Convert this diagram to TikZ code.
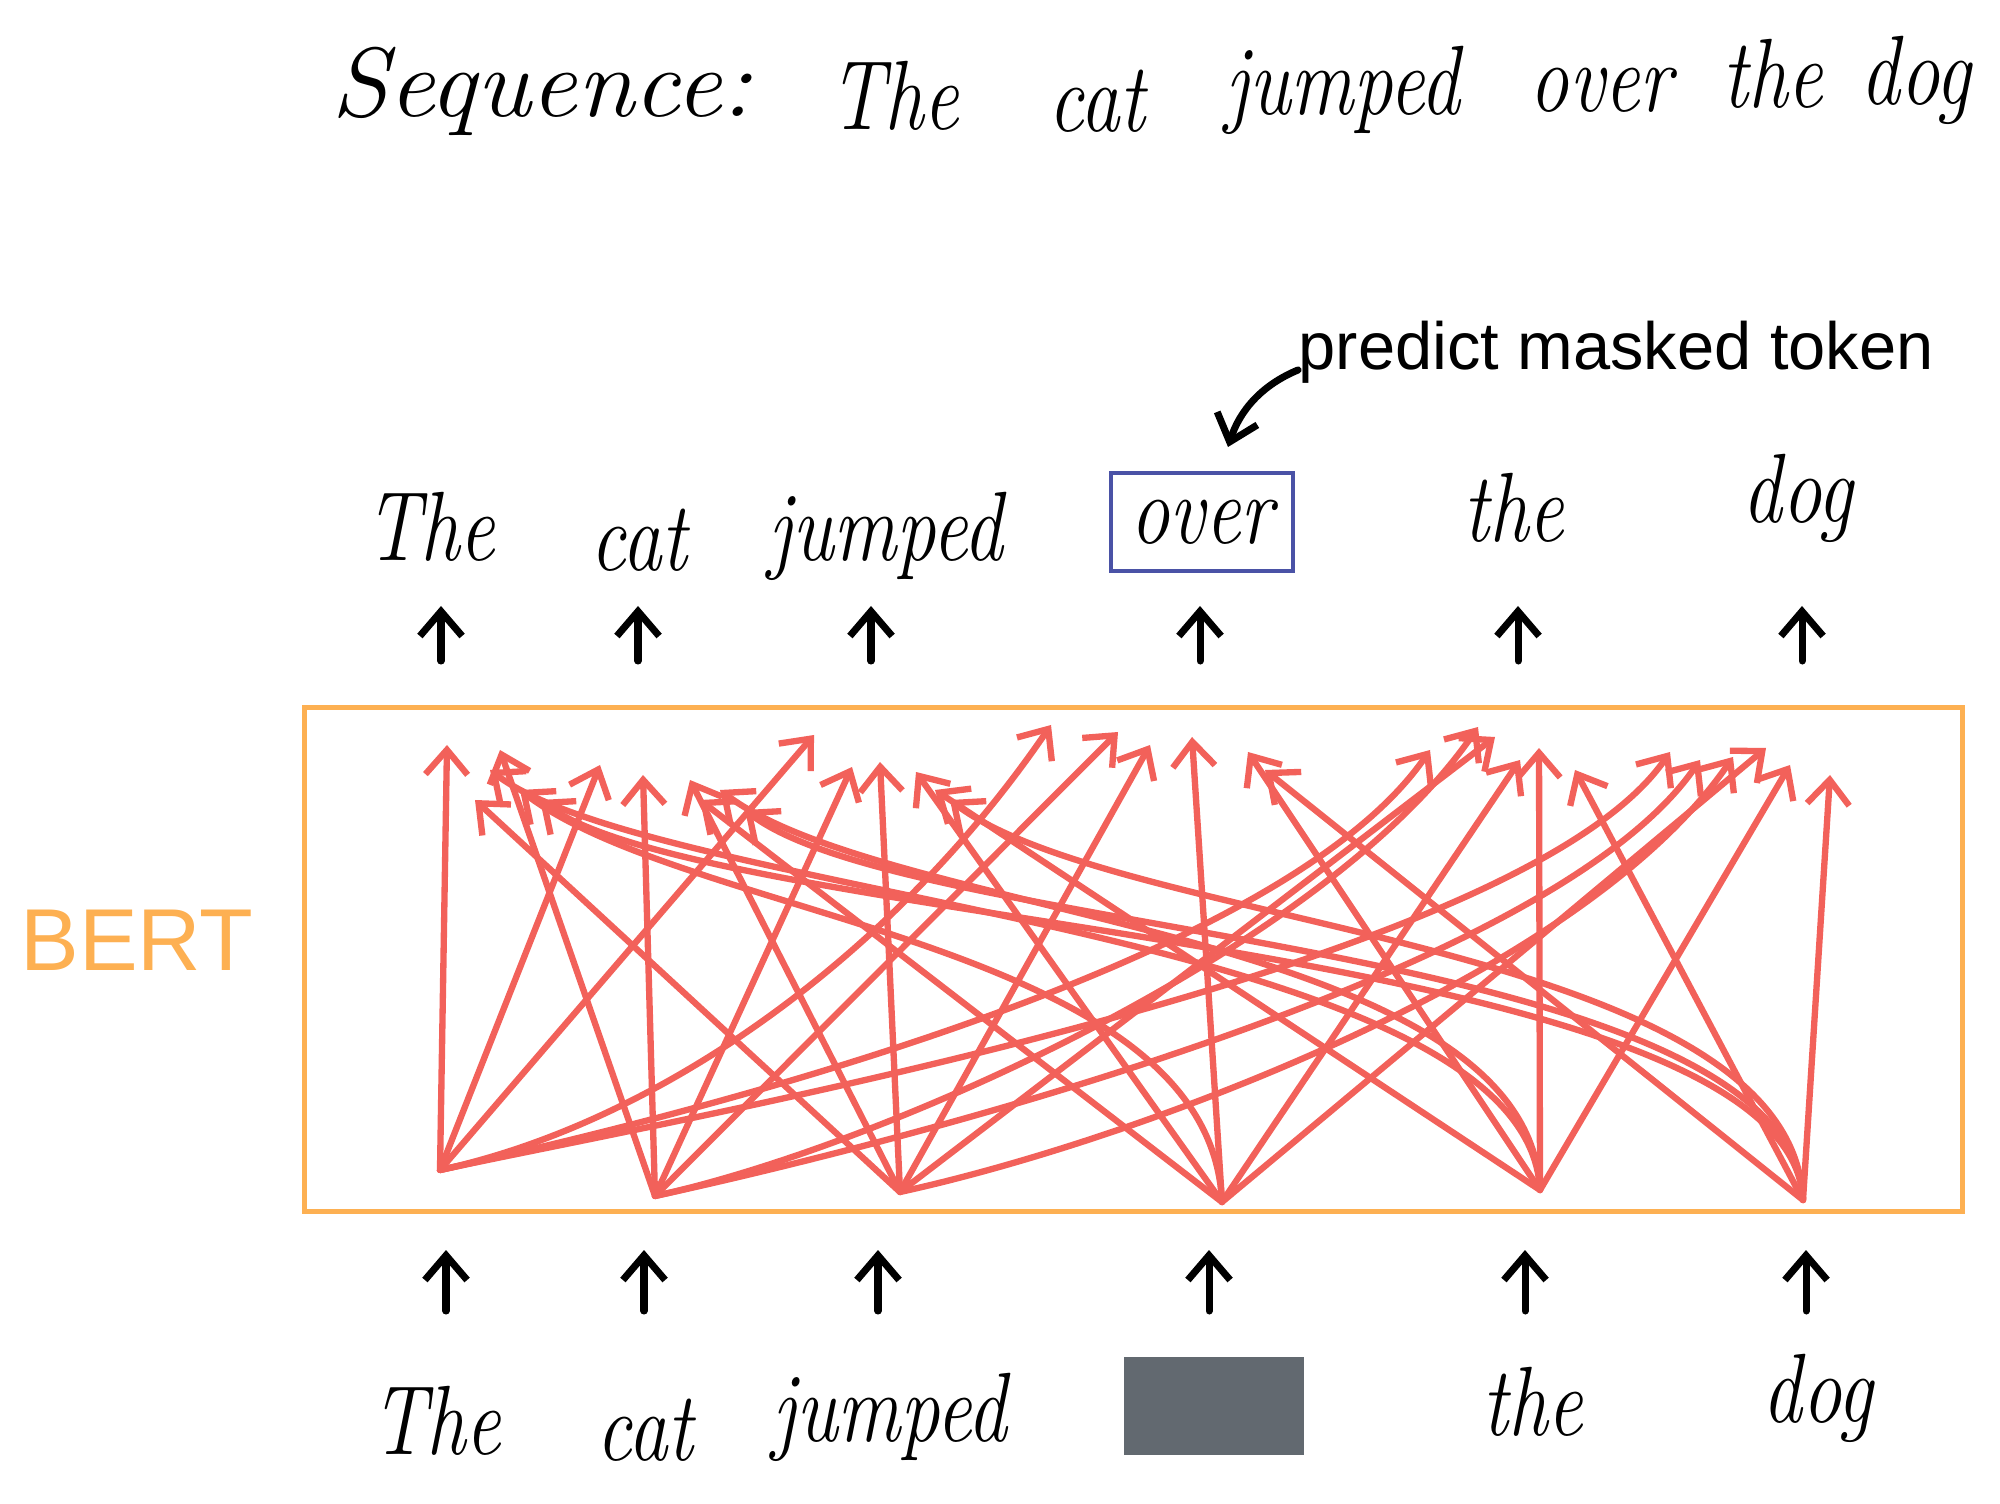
\documentclass[tikz,border=0pt]{standalone}
\usepackage{fontspec}
\usepackage{graphicx}
\newfontfamily\helv{Liberation Sans}
\usetikzlibrary{arrows.meta}
\definecolor{bertorange}{HTML}{FDB052}
\definecolor{attred}{HTML}{F2615A}
\definecolor{maskblue}{HTML}{4A52A6}
\definecolor{maskgray}{HTML}{626970}
\newcommand{\hw}[1]{\scalebox{0.8}[1]{#1}}
\begin{document}
\begin{tikzpicture}[x=0.01cm,y=-0.01cm,
  hand/.style={font=\fontsize{28}{32}\selectfont\itshape, inner sep=0pt, anchor=base},
  blk/.style={line width=2pt, line cap=round, line join=round, -{Straight Barb[length=7pt,width=12pt]}},
  att/.style={draw=attred, line width=1.8pt, line cap=round, line join=round, -{Straight Barb[length=7pt,width=12pt]}},
  bertbox/.style={draw=bertorange, line width=1.4pt, inner sep=0pt, minimum width=16.57cm, minimum height=5.04cm, anchor=north west},
  maskbox/.style={draw=maskblue, line width=1.3pt, inner sep=0pt, minimum width=1.82cm, minimum height=0.98cm, font=\fontsize{28}{32}\selectfont\itshape}
]
\useasboundingbox (0,0) rectangle (2000,1504);

% title
\node[hand] (t0) at (542,117) {\scalebox{1.05}[1]{Sequence:}};
\node[hand] (t1) at (894,130) {\hw{The}};
\node[hand] (t2) at (1097,132) {\hw{cat}};
\node[hand] (t3) at (1343,115) {\hw{jumped}};
\node[hand] (t4) at (1601,112) {\hw{over}};
\node[hand] (t5) at (1773,108) {\hw{the}};
\node[hand] (t6) at (1916,105) {\hw{dog}};

% output row
\node[hand] (tw1) at (430,561) {\hw{The}};
\node[hand] (tw2) at (639,571) {\hw{cat}};
\node[hand] (tw3) at (886,561) {\hw{jumped}};
\node[maskbox] (tw4) at (1202,522) {\hw{over}};
\node[hand] (tw5) at (1514,542) {\hw{the}};
\node[hand] (tw6) at (1798,523) {\hw{dog}};

% predict label
\node[anchor=base west, inner sep=0pt, font=\helv\fontsize{19}{23}\selectfont] (pred) at (1298,370) {predict masked token};
\coordinate (ptip) at (1228,447);
\draw[blk] (pred.base west) .. controls (1262,385) and (1240,410) .. (ptip);

% BERT box and label
\node[bertbox] (bert) at (302,705) {};
\node[inner sep=0pt, text=bertorange, font=\helv\fontsize{25}{30}\selectfont] (bertlabel) at (137,940) {BERT};

% input row
\node[hand] (bw1) at (436,1454) {\hw{The}};
\node[hand] (bw2) at (645,1460) {\hw{cat}};
\node[hand] (bw3) at (890,1441) {\hw{jumped}};
\node[fill=maskgray, inner sep=0pt, minimum width=1.8cm, minimum height=0.97cm] (bw4) at (1214,1406) {};
\node[hand] (bw5) at (1533,1435) {\hw{the}};
\node[hand] (bw6) at (1818,1422) {\hw{dog}};

% black arrows
\foreach \n/\x in {1/441,2/638,3/871,4/1200,5/1518,6/1802}{
  \coordinate (tas\n) at (\x,661);
  \coordinate (tae\n) at (\x,606);
  \draw[blk] (tas\n) -- (tae\n);
}
\foreach \n/\x in {1/446,2/644,3/878,4/1209,5/1525,6/1806}{
  \coordinate (bas\n) at (\x,1311);
  \coordinate (bae\n) at (\x,1250);
  \draw[blk] (bas\n) -- (bae\n);
}

% attention sources
\coordinate (b1) at (440,1170);
\coordinate (b2) at (655,1196);
\coordinate (b3) at (900,1192);
\coordinate (b4) at (1222,1202);
\coordinate (b5) at (1540,1190);
\coordinate (b6) at (1803,1200);

% straight attention arrows
\foreach \i/\j/\ex/\ey in {1/1/447/745, 1/2/600/765, 1/3/814/735,
  2/1/500/750, 2/2/643/775, 2/3/852/767, 2/4/1118/732,
  3/1/475/800, 3/2/690/780, 3/3/880/762, 3/4/1150/745, 3/5/1495/737,
  4/2/700/800, 4/3/916/772, 4/4/1192/737, 4/5/1520/760, 4/6/1766/748,
  5/3/935/790, 5/4/1248/752, 5/5/1539/748, 5/6/1790/765,
  6/4/1265/770, 6/5/1575/770, 6/6/1830/775}{
  \coordinate (e\i\j) at (\ex,\ey);
  \draw[att] (b\i) -- (e\i\j);
}
% long right-to-left
\foreach \i/\j/\ex/\ey in {4/1/520/790, 5/1/490/770, 6/1/540/800, 5/2/720/790, 6/2/745/810, 6/3/950/800}{
  \coordinate (e\i\j) at (\ex,\ey);
  \draw[att] (b\i) .. controls +(-12,-260) and +(170,130) .. (e\i\j);
}
% long left-to-right
\foreach \i/\j/\ex/\ey in {1/4/1051/725, 1/5/1430/750, 1/6/1670/752, 2/5/1478/727, 2/6/1700/760, 3/6/1733/757}{
  \coordinate (e\i\j) at (\ex,\ey);
  \draw[att] (b\i) .. controls +(230,-50) and +(-150,220) .. (e\i\j);
}
\end{tikzpicture}
\end{document}
